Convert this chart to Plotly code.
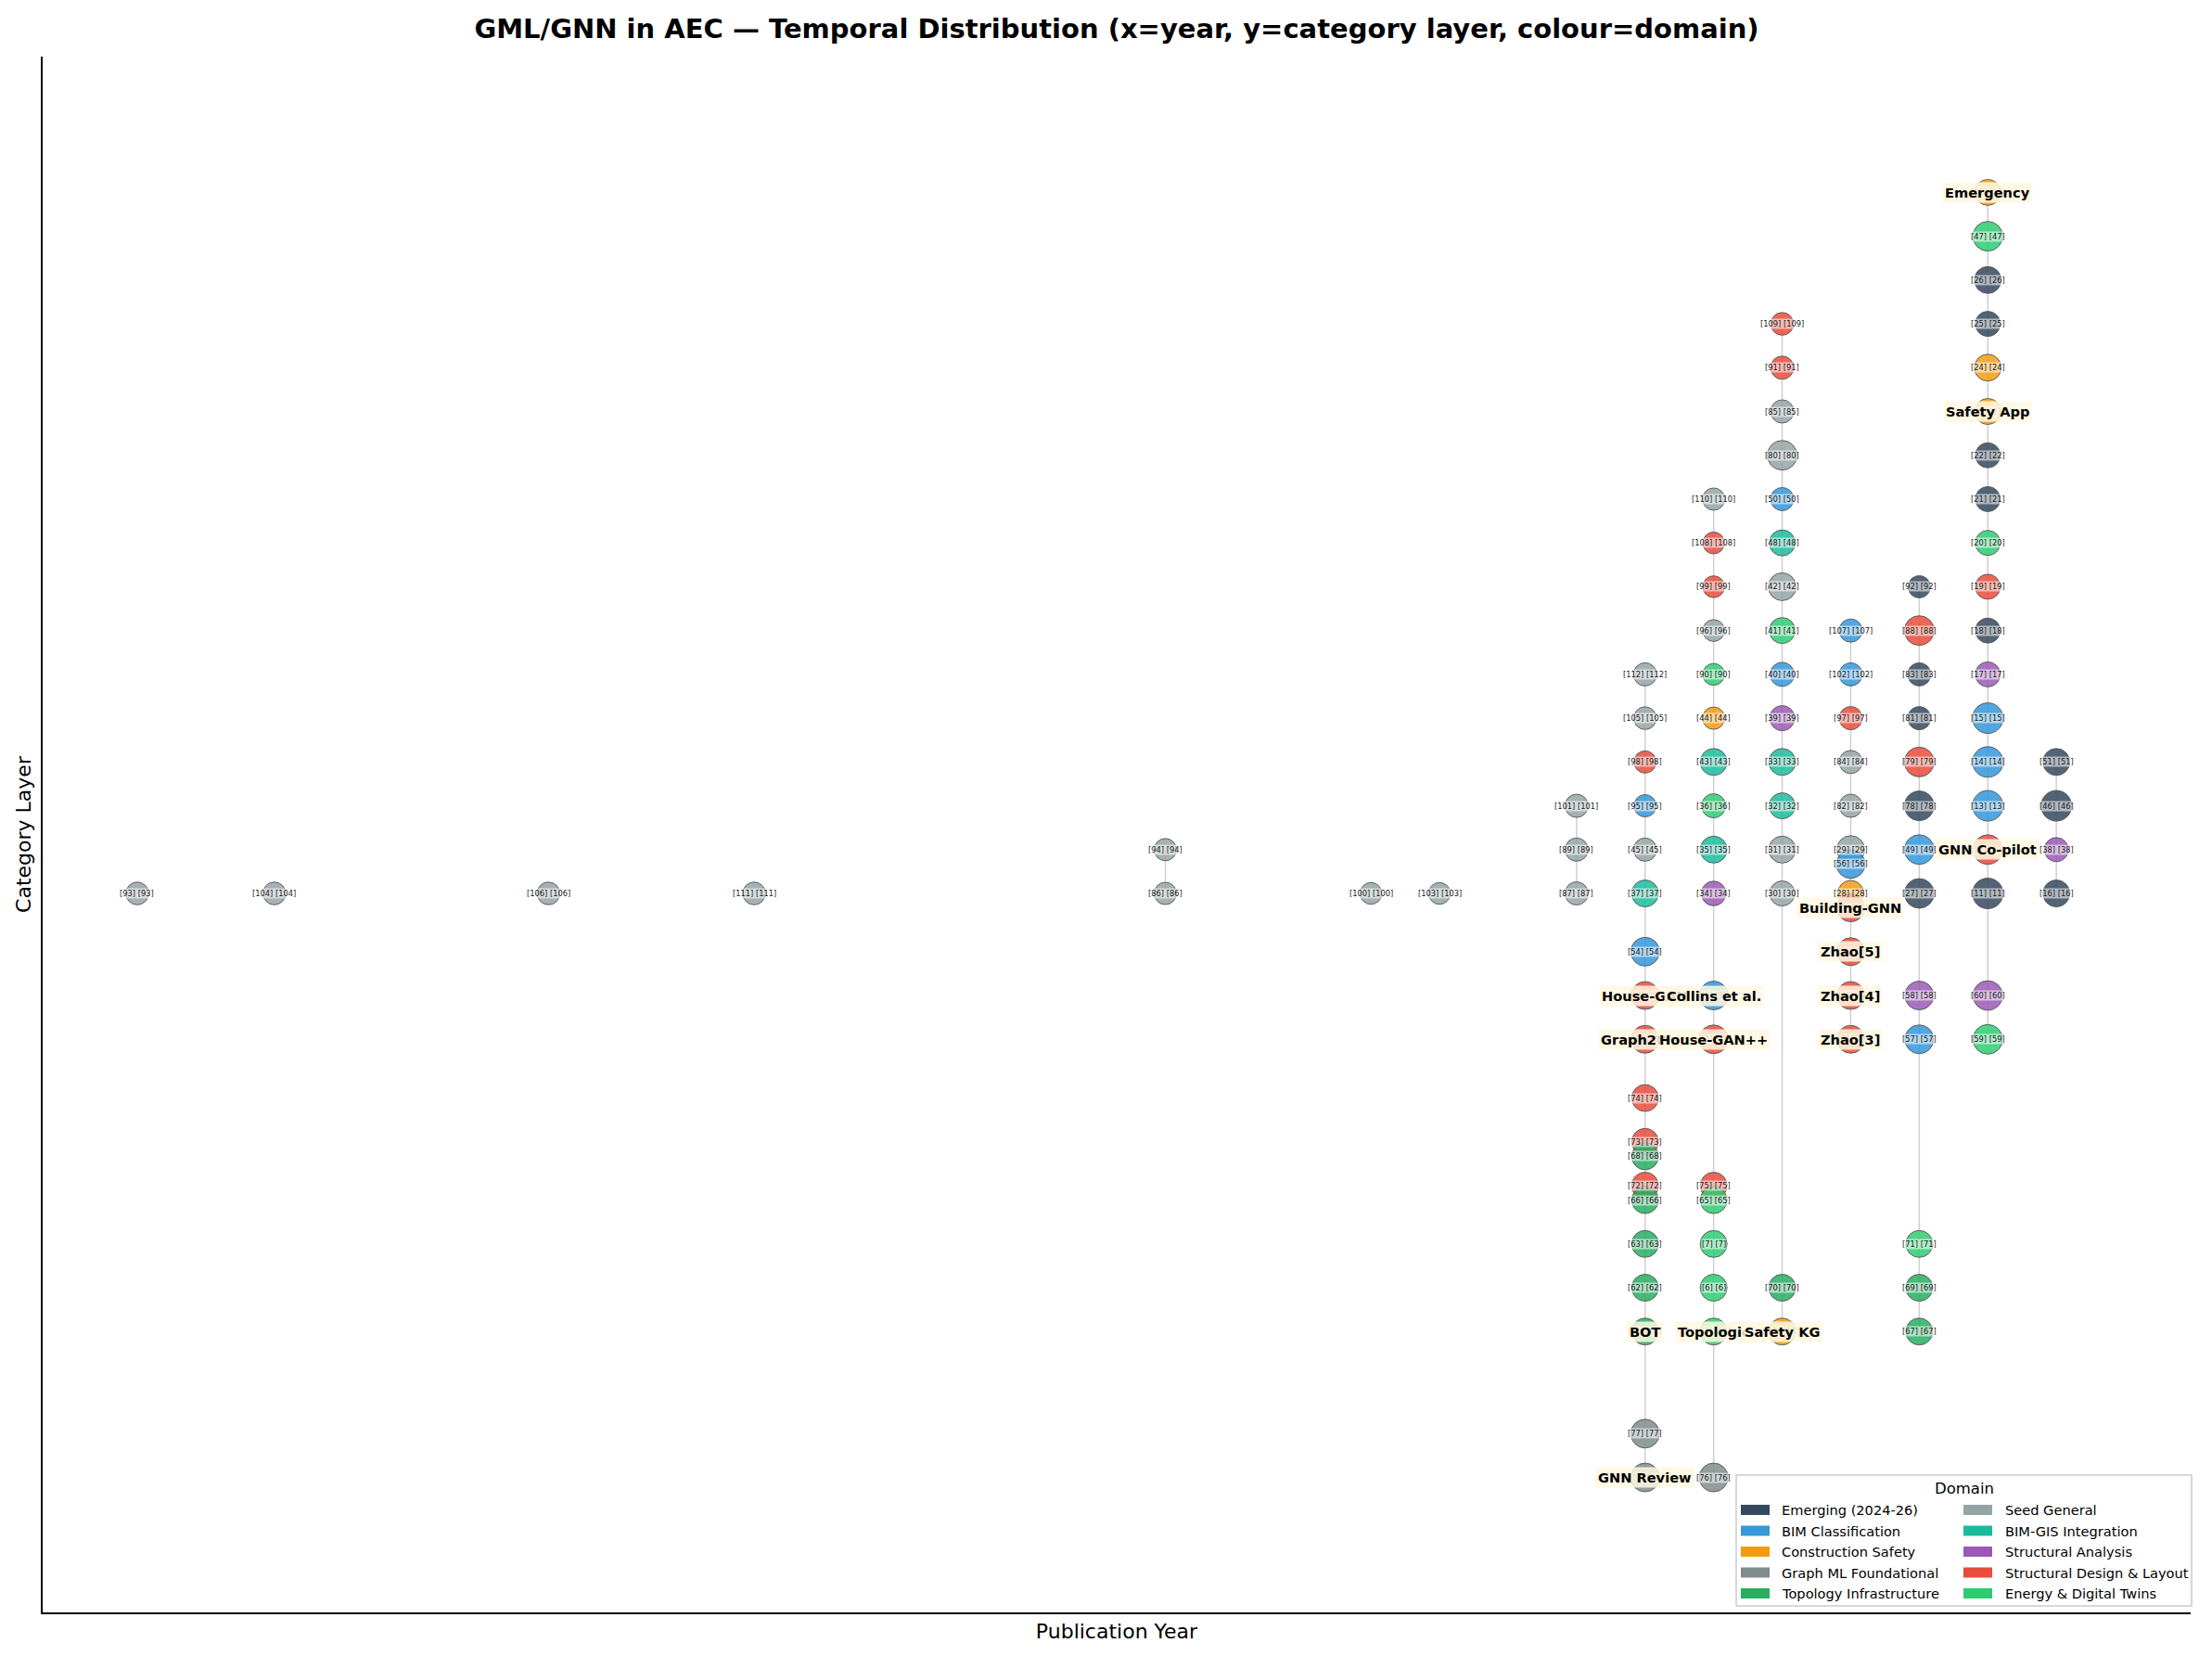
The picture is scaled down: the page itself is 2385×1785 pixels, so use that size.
import plotly.graph_objects as go

# ---------------- data ----------------
DOMAIN_KEYS = ["EM", "BIM", "SAF", "GML", "TOP", "SEED", "GIS", "SA", "SDL", "EDT"]
DOMAIN_NAMES = ["Emerging (2024-26)", "BIM Classification", "Construction Safety",
                "Graph ML Foundational", "Topology Infrastructure", "Seed General",
                "BIM-GIS Integration", "Structural Analysis", "Structural Design & Layout",
                "Energy & Digital Twins"]

ref_ids = [93, 104, 106, 111, 86, 94, 100, 103, 87, 89, 101,
           37, 45, 95, 98, 105, 112, 54, 8, 10, 74, 73, 68, 72, 66, 63, 62, 61, 77, 2,
           34, 35, 36, 43, 44, 90, 96, 99, 108, 110, 9, 1, 75, 65, 7, 6, 64, 76,
           30, 31, 32, 33, 39, 40, 41, 42, 48, 50, 80, 85, 91, 109, 70, 53,
           28, 29, 56, 82, 84, 97, 102, 107, 55, 5, 4, 3,
           27, 49, 78, 79, 81, 83, 88, 92, 58, 57, 71, 69, 67,
           11, 12, 13, 14, 15, 17, 18, 19, 20, 21, 22, 23, 24, 25, 26, 47, 52, 60, 59,
           16, 38, 46, 51]

short_names = ["", "", "", "", "", "", "", "", "", "", "",
               "", "", "", "", "", "", "", "House-GAN", "Graph2Plan", "", "", "", "", "", "", "", "BOT", "", "GNN Review",
               "", "", "", "", "", "", "", "", "", "", "Collins et al.", "House-GAN++", "", "", "", "", "Topologic", "",
               "", "", "", "", "", "", "", "", "", "", "", "", "", "", "", "Safety KG",
               "", "", "", "", "", "", "", "", "Building-GNN", "Zhao[5]", "Zhao[4]", "Zhao[3]",
               "", "", "", "", "", "", "", "", "", "", "", "", "",
               "", "GNN Co-pilot", "", "", "", "", "", "", "", "", "", "Safety App", "", "", "", "", "Emergency", "", "",
               "", "", "", ""]

years = [1998, 2000, 2004, 2007, 2013, 2013, 2016, 2017, 2019, 2019, 2019,
         2020, 2020, 2020, 2020, 2020, 2020, 2020, 2020, 2020, 2020, 2020, 2020, 2020, 2020, 2020, 2020, 2020, 2020, 2020,
         2021, 2021, 2021, 2021, 2021, 2021, 2021, 2021, 2021, 2021, 2021, 2021, 2021, 2021, 2021, 2021, 2021, 2021,
         2022, 2022, 2022, 2022, 2022, 2022, 2022, 2022, 2022, 2022, 2022, 2022, 2022, 2022, 2022, 2022,
         2023, 2023, 2023, 2023, 2023, 2023, 2023, 2023, 2023, 2023, 2023, 2023,
         2024, 2024, 2024, 2024, 2024, 2024, 2024, 2024, 2024, 2024, 2024, 2024, 2024,
         2025, 2025, 2025, 2025, 2025, 2025, 2025, 2025, 2025, 2025, 2025, 2025, 2025, 2025, 2025, 2025, 2025, 2025, 2025,
         2026, 2026, 2026, 2026]

layers = [0, 0, 0, 0, 0, 1, 0, 0, 0, 1, 2,
          0, 1, 2, 3, 4, 5, -1.33, -2.33, -3.33, -4.67, -5.67, -6.0, -6.67, -7.0, -8, -9, -10, -12.33, -13.33,
          0, 1, 2, 3, 4, 5, 6, 7, 8, 9, -2.33, -3.33, -6.67, -7.0, -8, -9, -10, -13.33,
          0, 1, 2, 3, 4, 5, 6, 7, 8, 9, 10, 11, 12, 13, -9, -10,
          0, 1, 0.67, 2, 3, 4, 5, 6, -0.33, -1.33, -2.33, -3.33,
          0, 1, 2, 3, 4, 5, 6, 7, -2.33, -3.33, -8, -9, -10,
          0, 1, 2, 3, 4, 5, 6, 7, 8, 9, 10, 11, 12, 13, 14, 15, 16, -2.33, -3.33,
          0, 1, 2, 3]

domains = ["SEED", "SEED", "SEED", "SEED", "SEED", "SEED", "SEED", "SEED", "SEED", "SEED", "SEED",
           "GIS", "SEED", "BIM", "SDL", "SEED", "SEED", "BIM", "SDL", "SDL", "SDL", "SDL", "TOP", "SDL", "TOP", "TOP", "TOP", "TOP", "GML", "GML",
           "SA", "GIS", "EDT", "GIS", "SAF", "EDT", "SEED", "SDL", "SDL", "SEED", "BIM", "SDL", "SDL", "EDT", "EDT", "EDT", "EDT", "GML",
           "SEED", "SEED", "GIS", "GIS", "SA", "BIM", "EDT", "SEED", "GIS", "BIM", "SEED", "SEED", "SDL", "SDL", "TOP", "SAF",
           "SAF", "SEED", "BIM", "SEED", "SEED", "SDL", "BIM", "BIM", "SDL", "SDL", "SDL", "SDL",
           "EM", "BIM", "EM", "SDL", "EM", "EM", "SDL", "EM", "SA", "BIM", "EDT", "TOP", "TOP",
           "EM", "SDL", "BIM", "BIM", "BIM", "SA", "EM", "SDL", "EDT", "EM", "EM", "SAF", "SAF", "EM", "EM", "EDT", "SAF", "SA", "EDT",
           "EM", "SA", "EM", "EM"]

impact = [1.5, 1.5, 1.5, 1.5, 1, 1, 0.5, 0.5, 2, 2, 2,
          6, 2, 1, 1, 1.5, 2, 8, 7, 7, 6, 6, 6, 6, 6, 6, 6, 6, 8, 8,
          3.5, 6, 3, 6, 1, 0.5, 0.5, 0.5, 0.5, 1, 8, 8, 6, 6, 6, 6, 6, 8,
          4, 6, 5, 6, 4, 3, 5, 7, 5, 2, 9, 2, 2, 1.5, 6, 6,
          5, 7, 8, 2, 2, 2, 2, 2, 7, 7, 7, 7,
          9, 9, 9, 9, 2, 2, 9, 1, 8, 8, 6, 6, 6,
          10, 9, 10, 10, 10, 4, 4, 4, 4, 4, 4, 5, 6, 4, 6, 9, 5, 9, 9,
          6, 3, 10, 6]

# ---------------- styles ----------------
DOMAIN_COLORS = {"EM": "#34495e", "BIM": "#3498db", "SAF": "#f39c12", "GML": "#7f8c8d",
                 "TOP": "#27ae60", "SEED": "#95a5a6", "GIS": "#1abc9c", "SA": "#9b59b6",
                 "SDL": "#e74c3c", "EDT": "#2ecc71"}
FONT = "DejaVu Sans"
W, H = 2385, 1785
PL, PR, PT, PB = 46, 2362, 61, 1738   # plot area in pixels


def rgba(hex_c, a):
    h = hex_c.lstrip("#")
    return "rgba(%d,%d,%d,%.3f)" % (int(h[0:2], 16), int(h[2:4], 16), int(h[4:6], 16), a)


def px_x(p):
    return (p - PL) / (PR - PL)


def px_y(p):
    return (PB - p) / (PB - PT)


fig = go.Figure()

# column connector lines (built from the node data)
lx, ly = [], []
for yr in sorted(set(years)):
    ys = sorted(l for l, y in zip(layers, years) if y == yr)
    if len(ys) > 1:
        lx += [yr] * len(ys) + [None]
        ly += ys + [None]
fig.add_trace(go.Scatter(x=lx, y=ly, mode="lines",
                         line=dict(color="rgba(175,175,175,0.6)", width=1.5),
                         hoverinfo="skip", showlegend=False))

# nodes
fig.add_trace(go.Scatter(
    x=years, y=layers, mode="markers",
    marker=dict(size=[23 + v for v in impact], opacity=1,
                color=[rgba(DOMAIN_COLORS[d], 0.85) for d in domains],
                line=dict(color="rgba(85,85,85,0.9)", width=1)),
    text=[f"[{r}] {n}" for r, n in zip(ref_ids, short_names)],
    hoverinfo="text", showlegend=False))

annotations = []
for r, yr, l in zip(ref_ids, years, layers):
    annotations.append(dict(x=yr, y=l, xref="x", yref="y", text=f"[{r}] [{r}]",
                            showarrow=False, xanchor="center", yanchor="middle",
                            font=dict(family=FONT, size=8.3, color="#1a1a1a"),
                            bgcolor="rgba(255,255,255,0.55)", borderpad=0, height=10))
for n, yr, l in zip(short_names, years, layers):
    if n:
        annotations.append(dict(x=yr, y=l, xref="x", yref="y", text=n,
                                showarrow=False, xanchor="center", yanchor="middle",
                                font=dict(family=FONT, size=14.6, color="black", weight="bold"),
                                bgcolor="rgba(255,248,225,0.85)", borderpad=2))

# manual legend (patch-style swatches)
shapes = [dict(type="rect", xref="paper", yref="paper",
               x0=px_x(1872), x1=px_x(2363), y0=px_y(1731), y1=px_y(1590),
               line=dict(color="#cccccc", width=1.5), fillcolor="rgba(255,255,255,0.85)",
               layer="above")]
annotations.append(dict(x=px_x(2117.5), y=px_y(1604), xref="paper", yref="paper",
                        text="Domain", showarrow=False, xanchor="center", yanchor="middle",
                        font=dict(family=FONT, size=16.5, color="black")))
row_y = [1627.5, 1650, 1672.5, 1695, 1717.5]
col_sw = [(1877, 1908, 1919), (2117, 2148, 2159.5)]
for i, (name, key) in enumerate(zip(DOMAIN_NAMES, DOMAIN_KEYS)):
    c, r = divmod(i, 5)
    sx0, sx1, tx = col_sw[c]
    cy = row_y[r]
    shapes.append(dict(type="rect", xref="paper", yref="paper",
                       x0=px_x(sx0), x1=px_x(sx1), y0=px_y(cy + 5.5), y1=px_y(cy - 5.5),
                       line=dict(width=0), fillcolor=DOMAIN_COLORS[key], layer="above"))
    annotations.append(dict(x=px_x(tx), y=px_y(cy), xref="paper", yref="paper",
                            text=name, showarrow=False, xanchor="left", yanchor="middle",
                            font=dict(family=FONT, size=14.6, color="black")))

axis_common = dict(showline=True, linecolor="black", linewidth=1.7, mirror=False,
                   ticks="", showticklabels=False, showgrid=False, zeroline=False)

fig.update_layout(
    width=W, height=H,
    margin=dict(l=PL, r=W - PR, t=PT, b=H - PB, pad=0),
    plot_bgcolor="white", paper_bgcolor="white",
    showlegend=False,
    font=dict(family=FONT, color="black"),
    title=dict(text="GML/GNN in AEC — Temporal Distribution (x=year, y=category layer, colour=domain)",
               x=0.5, xref="paper", xanchor="center",
               y=1 - 31 / H, yref="container", yanchor="middle",
               font=dict(family=FONT, size=29, color="black", weight="bold")),
    xaxis=dict(range=[1996.62, 2027.96],
               title=dict(text="Publication Year", standoff=12,
                          font=dict(family=FONT, size=22, color="black")),
               **axis_common),
    yaxis=dict(range=[-16.41, 19.10],
               title=dict(text="Category Layer", standoff=4,
                          font=dict(family=FONT, size=22, color="black")),
               **axis_common),
    annotations=annotations,
    shapes=shapes,
)

fig.write_html("out.html")
